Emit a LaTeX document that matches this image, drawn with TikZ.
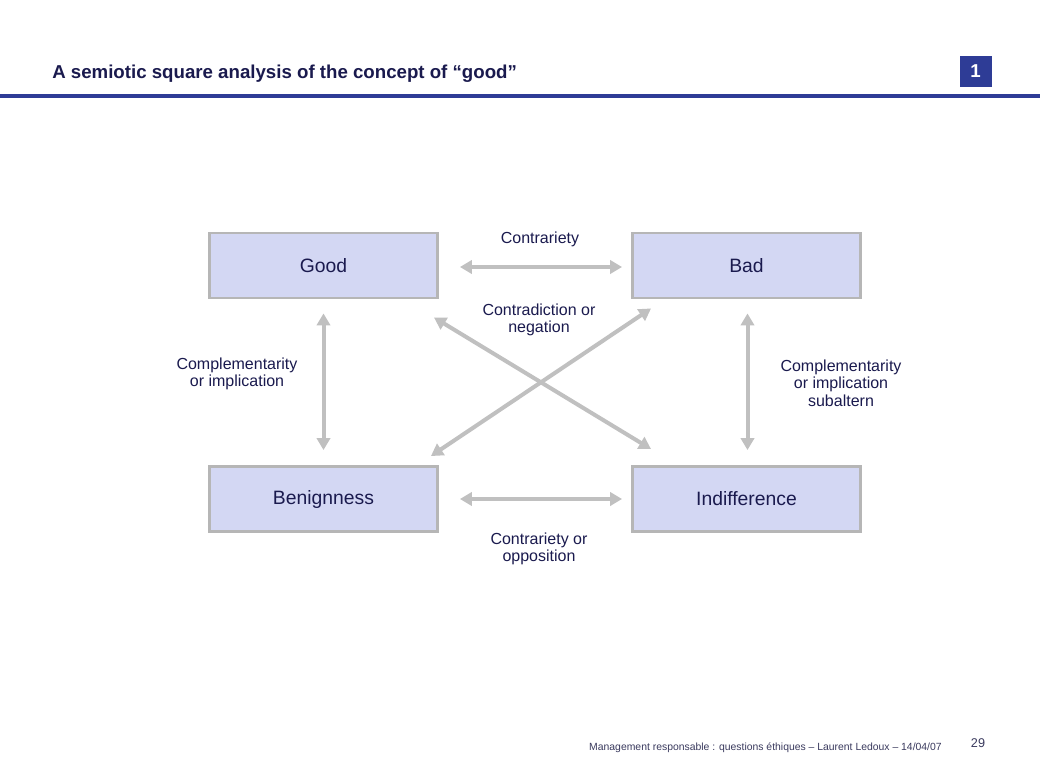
\documentclass[tikz,border=0pt]{standalone}
\usepackage{fontspec}
\setmainfont{Liberation Sans}
\usetikzlibrary{arrows.meta}
\definecolor{navy}{HTML}{1A1A4E}
\definecolor{barblue}{HTML}{2E3C96}
\definecolor{boxfill}{HTML}{D3D7F3}
\definecolor{boxline}{HTML}{B6B6B6}
\definecolor{arrgray}{HTML}{C0C0C0}
\definecolor{footgray}{HTML}{3A3A5E}
\tikzset{
  x=0.75pt, y=-0.75pt,
  termbox/.style={draw=boxline, line width=2.2pt, fill=boxfill, minimum width=228*0.75pt, minimum height=65*0.75pt, inner sep=0pt, text=navy, font=\fontsize{14.5}{17}\selectfont},
  lbl/.style={text=navy, align=center, font=\fontsize{12}{13}\selectfont, inner sep=0pt},
  arr/.style={draw=arrgray, line width=3pt, {Triangle[length=9pt,width=10pt]}-{Triangle[length=9pt,width=10pt]}}
}
\begin{document}
\begin{tikzpicture}
\useasboundingbox[fill=white] (0,0) rectangle (1040,768);
% header
\node[anchor=base west, inner sep=0pt, text=navy, font=\fontsize{14}{16}\selectfont\bfseries] (title) at (52,78) {A semiotic square analysis of the concept of “good”};
\node[fill=barblue, minimum width=32*0.75pt, minimum height=31*0.75pt, inner sep=0pt, text=white, font=\fontsize{14}{16}\selectfont\bfseries] (num) at (975.5,71.5) {1};
\fill[barblue] (0,93.5) rectangle (1040,97.5);
% boxes
\node[termbox] (good) at (323.5,265.5) {Good};
\node[termbox] (bad) at (746.5,265.5) {Bad};
\node[termbox] (benign) at (323.5,499) {Benignness};
\node[termbox] (indiff) at (746.5,499) {Indifference};
% connectors
\draw[arr, shorten <=21*0.75pt, shorten >=9*0.75pt] ([yshift=-1.5*0.75pt]good.east) -- ([yshift=-1.5*0.75pt]bad.west);
\draw[arr, shorten <=21*0.75pt, shorten >=9*0.75pt] (benign.east) -- (indiff.west);
\draw[arr, shorten <=14*0.75pt, shorten >=15*0.75pt] (good.south) -- (benign.north);
\draw[arr, shorten <=14*0.75pt, shorten >=15*0.75pt] ([xshift=1*0.75pt]bad.south) -- ([xshift=1*0.75pt]indiff.north);
\draw[arr] ([shift={(-5,18)}]good.south east) -- ([shift={(20,-16)}]indiff.north west);
\draw[arr] ([shift={(20,9)}]bad.south west) -- ([shift={(-8,-9)}]benign.north east);
% labels
\node[lbl] (l1) at (540,239) {Contrariety};
\node[lbl] (l2) at (539,320) {Contradiction or\\negation};
\node[lbl] (l3) at (237,374) {Complementarity\\or implication};
\node[lbl] (l4) at (841,383) {Complementarity\\or implication\\subaltern};
\node[lbl] (l5) at (539,549) {Contrariety or\\opposition};
% footer
\node[anchor=base east, inner sep=0pt, text=footgray, font=\fontsize{7.8}{9}\selectfont] (foot) at (942,750) {Management responsable : questions éthiques – Laurent Ledoux – 14/04/07};
\node[anchor=base, inner sep=0pt, text=footgray, font=\fontsize{9.5}{11}\selectfont] (page) at (978,747) {29};
\end{tikzpicture}
\end{document}
